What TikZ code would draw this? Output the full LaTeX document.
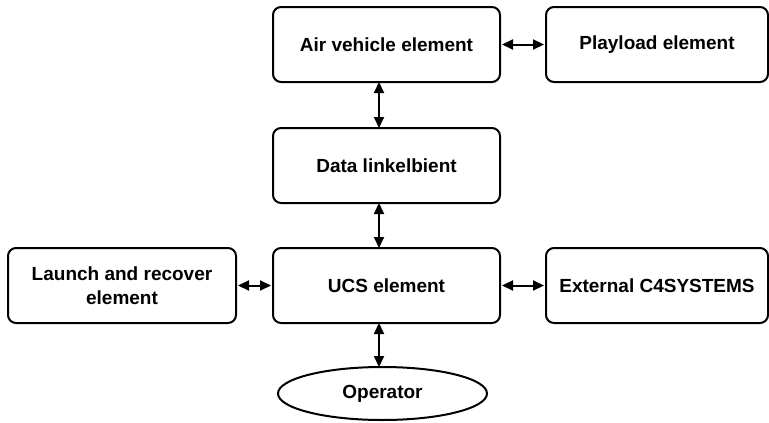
\documentclass[tikz,border=0pt]{standalone}
\usepackage{fontspec}
\setmainfont{Liberation Sans}
\usetikzlibrary{arrows.meta,shapes.geometric}
\begin{document}
\begin{tikzpicture}[x=1pt,y=-1pt,
  box/.style={draw,line width=2pt,rounded corners=8pt,minimum width=227pt,minimum height=75pt,inner sep=0pt,align=center,font=\fontsize{19}{23.5}\selectfont\bfseries},
  oval/.style={draw,ellipse,line width=2pt,minimum width=209pt,minimum height=53pt,inner sep=0pt,font=\fontsize{19}{23}\selectfont\bfseries},
  link/.style={line width=2pt,{Triangle[length=11pt,width=10pt]}-{Triangle[length=11pt,width=10pt]}}]
\useasboundingbox (0,0) rectangle (769,423);
\node[box] (air) at (386.5,44.5) {Air vehicle element};
\node[box,minimum width=222pt] (pay) at (657,44.5) {Playload element};
\node[box] (data) at (386.5,165.5) {Data linkelbient};
\node[box] (ucs) at (386.5,285.5) {UCS element};
\node[box,minimum width=228pt] (lau) at (122,285.5) {Launch and recover\\element};
\node[box,minimum width=222pt] (ext) at (657,285.5) {External C4SYSTEMS};
\node[oval] (op) at (382.5,393.5) {Operator};
\coordinate (opt) at ([xshift=-3.5pt,yshift=-1pt]op.north);
\draw[link] ([xshift=1pt]air.east) -- ([xshift=-1pt]pay.west);
\draw[link] ([xshift=1pt]lau.east) -- ([xshift=-1pt]ucs.west);
\draw[link] ([xshift=1pt]ucs.east) -- ([xshift=-1pt]ext.west);
\draw[link] ([xshift=-7.5pt,yshift=1pt]air.south) -- ([xshift=-7.5pt,yshift=-1pt]data.north);
\draw[link] ([xshift=-7.5pt,yshift=1pt]data.south) -- ([xshift=-7.5pt,yshift=-1pt]ucs.north);
\draw[link] ([xshift=-7.5pt,yshift=1pt]ucs.south) -- (opt);
\end{tikzpicture}
\end{document}
